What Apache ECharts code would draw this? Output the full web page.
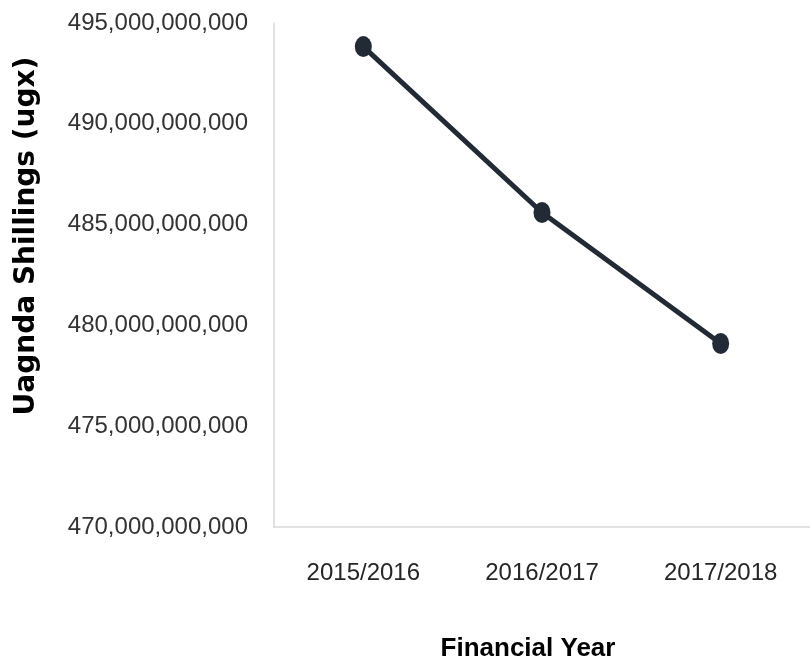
<!DOCTYPE html>
<html>
<head>
<meta charset="utf-8">
<script src="https://cdn.jsdelivr.net/npm/echarts@6/dist/echarts.min.js"></script>
<style>html,body{margin:0;padding:0;background:#fff}#c{width:810px;height:666px}</style>
</head>
<body>
<div id="c"></div>
<script>
const categories = ['2015/2016', '2016/2017', '2017/2018'];
const values = [493830000000, 485600000000, 479100000000];
const yMin = 470000000000, yMax = 495000000000, yStep = 5000000000;
const xTitle = 'Financial Year';
const yTitle = 'Uagnda Shillings (ugx)';

const chart = echarts.init(document.getElementById('c'), null, {renderer: 'canvas'});
const fmt = v => Math.round(v).toString().replace(/\B(?=(\d{3})+(?!\d))/g, ',');
chart.setOption({
  animation: false,
  backgroundColor: '#fff',
  grid: {left: 274, top: 23, right: 0, height: 504, containLabel: false},
  xAxis: {
    type: 'category', data: categories, boundaryGap: true,
    axisLine: {lineStyle: {color: '#d9d9d9', width: 1.5}},
    axisTick: {show: false},
    axisLabel: {color: '#262626', fontFamily: 'Liberation Sans', fontSize: 24, margin: 34}
  },
  yAxis: {
    type: 'value', min: yMin, max: yMax, interval: yStep,
    axisLine: {show: true, lineStyle: {color: '#d9d9d9', width: 1.5}},
    axisTick: {show: false},
    splitLine: {show: false},
    axisLabel: {color: '#333', fontFamily: 'Liberation Sans', fontSize: 24, margin: 26, formatter: fmt}
  },
  graphic: [
    {type: 'text', z: 10, x: 528, y: 649,
     style: {text: xTitle, align: 'center', verticalAlign: 'middle',
       font: 'bold 26px "Liberation Sans"', fill: '#000'}},
    {type: 'text', z: 10, x: 27, y: 236, rotation: Math.PI/2,
     style: {text: yTitle, align: 'center', verticalAlign: 'middle',
       font: 'bold 28px "DejaVu Sans"', fill: '#000'}}
  ],
  series: [{
    type: 'line', data: values,
    symbol: 'circle', symbolSize: [17, 21],
    lineStyle: {color: '#222a35', width: 5},
    itemStyle: {color: '#222a35'}
  }]
});
</script>
</body>
</html>
